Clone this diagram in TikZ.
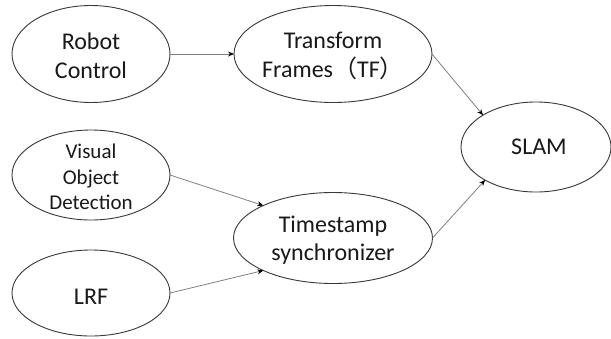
\documentclass[tikz,border=0pt]{standalone}
\usepackage{fontspec}
\setmainfont{Carlito}
\newfontfamily\cjk{Noto Sans CJK SC}
\usetikzlibrary{shapes.geometric,arrows.meta}
\begin{document}
\begin{tikzpicture}[x=1pt,y=-1pt,
  ell/.style={ellipse,draw=black!78,line width=0.9pt,inner sep=0pt,outer sep=0pt},
  lbl/.style={align=center,font=\fontsize{24}{28.5}\selectfont,text=black!90,inner sep=0pt},
  lbls/.style={align=center,font=\fontsize{21}{25.5}\selectfont,text=black!90,inner sep=0pt},
  conn/.style={draw=black!50,line width=0.8pt,-{Stealth[length=6pt,width=5pt,color=black]}}]
\fill[white] (0,0) rectangle (611,338);
\useasboundingbox (0,0) rectangle (611,338);
% ellipses
\node[ell,minimum width=158pt,minimum height=97pt] (rc) at (91,54) {};
\node[ell,minimum width=198pt,minimum height=97pt] (tf) at (333,54) {};
\node[ell,minimum width=150pt,minimum height=90pt] (slam) at (536,147) {};
\node[ell,minimum width=158pt,minimum height=90pt] (vod) at (91,175) {};
\node[ell,minimum width=158pt,minimum height=86pt] (lrf) at (91,293) {};
\node[ell,minimum width=199pt,minimum height=91pt] (ts) at (333,238) {};
% labels
\node[lbl] (rct) at (91,56) {Robot\\Control};
\node[lbl] (tft) at (333,56) {Transform\\Frames{\cjk（}TF{\cjk）}};
\node[lbl] (slamt) at (539,147) {SLAM};
\node[lbls] (vodt) at (91,177) {Visual\\Object\\Detection};
\node[lbl] (lrft) at (91,297) {LRF};
\node[lbl] (tst) at (333,240) {Timestamp\\synchronizer};
% connectors
\draw[conn] (rc.east) -- (tf.west);
\draw[conn] (tf.east) -- (slam.149);
\draw[conn] (vod.east) -- (ts.155);
\draw[conn] (lrf.east) -- (ts.205);
\draw[conn] (ts.east) -- (slam.213);
\end{tikzpicture}
\end{document}
